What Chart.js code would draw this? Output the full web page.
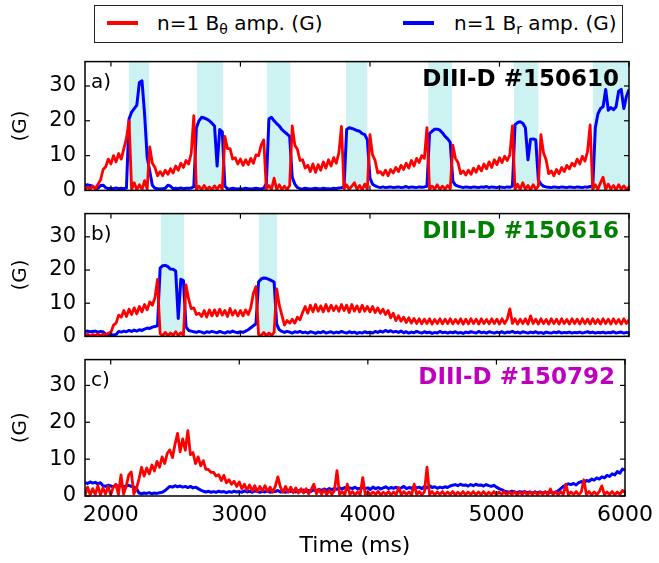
<!DOCTYPE html>
<html>
<head>
<meta charset="utf-8">
<script src="https://cdn.jsdelivr.net/npm/chart.js@4.4.1/dist/chart.umd.min.js"></script>
<style>
  body { margin: 0; background: #fff; }
  #wrap { position: relative; width: 659px; height: 563px; overflow: hidden; font-family: 'DejaVu Sans'; color: #000; }
  #wrap canvas { position: absolute; left: 0; }
  #legend { position: absolute; left: 94px; top: 5px; width: 529px; height: 38px; box-sizing: border-box; border: 1.5px solid #222; }
  .sw { position: absolute; width: 31px; height: 4px; top: 15px; }
  .lt { position: absolute; top: 7px; font-size: 20px; line-height: 20px; white-space: nowrap; }
  .lt sub { font-size: 14px; vertical-align: -4px; line-height: 0; }
</style>
</head>
<body>
<div id="wrap">
  <div id="legend">
    <div class="sw" style="left:12px;background:#ff0000"></div>
    <div class="lt" style="left:62px">n=1 B<sub>θ</sub> amp. (G)</div>
    <div class="sw" style="left:308px;background:#0000ff"></div>
    <div class="lt" style="left:359px">n=1 B<sub>r</sub> amp. (G)</div>
  </div>
  <canvas id="pa" width="659" height="172" style="top:40px"></canvas>
  <canvas id="pb" width="659" height="166" style="top:192px"></canvas>
  <canvas id="pc" width="659" height="225" style="top:338px"></canvas>
</div>
<script>
// samples every 20 ms, 1800 .. 6000 ms
const T_START = 1800, T_STEP = 20;
const xTickValues = [2000, 3000, 4000, 5000, 6000];

// shot 150610
const aRed = [
  0.2,1.0,0.3,1.2,0.4,1.8,3.0,6.0,6.8,9.0,
  7.6,10.0,8.2,10.6,9.0,12.0,15.0,20.0,0.3,2.2,
  0.2,1.6,0.2,2.8,0.4,12.5,7.8,6.6,4.2,5.4,
  4.2,5.8,4.6,6.2,5.0,7.0,5.8,7.8,6.6,8.6,
  7.6,10.6,21.5,0.3,1.2,0.2,1.4,0.3,1.0,0.2,
  1.3,0.3,1.5,0.4,15.5,12.0,12.0,9.0,9.4,7.6,
  9.0,7.2,8.8,7.4,9.2,7.8,10.2,10.0,13.0,14.5,
  0.4,1.4,0.3,3.5,0.2,1.6,0.3,1.2,0.2,1.4,
  18.5,13.0,11.8,8.6,8.8,6.4,7.2,5.4,7.6,5.2,
  7.4,5.8,8.2,6.4,8.8,7.0,9.4,7.8,10.8,18.4,
  0.4,1.6,0.3,1.2,2.2,0.3,1.4,0.2,1.8,0.4,
  16.0,10.2,8.6,5.0,5.4,4.4,5.8,4.2,6.0,5.0,
  6.6,5.4,7.2,6.0,7.8,6.4,8.6,7.0,9.2,8.0,
  10.0,9.2,18.0,0.3,1.2,0.4,1.6,0.3,1.2,0.4,
  1.4,0.5,13.0,9.2,8.0,4.8,5.6,4.4,5.8,4.6,
  6.4,5.2,7.0,5.6,7.6,6.2,8.2,6.6,8.8,7.4,
  9.4,8.0,9.8,8.6,10.2,18.5,0.3,1.8,0.3,2.2,
  0.3,1.4,0.2,1.6,0.4,1.2,16.0,10.8,8.8,4.8,
  5.6,4.2,6.0,4.8,6.6,5.4,7.2,6.2,7.8,7.0,
  9.0,7.6,9.8,8.4,11.2,18.8,0.3,1.6,0.3,2.2,
  3.8,0.3,1.8,0.4,1.4,0.2,1.6,0.4,1.3,0.3,
  1.0
];
const aBlue = [
  1.5,1.6,1.4,1.2,0.5,0.6,1.4,1.5,0.8,0.5,
  0.6,0.5,0.7,0.5,0.6,0.5,0.7,20.5,22.5,23.5,
  24.5,31.0,31.5,22.0,9.5,5.5,1.5,0.6,0.5,0.4,
  0.5,0.6,1.5,1.2,0.5,0.6,0.5,0.7,0.5,0.6,
  0.6,0.7,1.0,18.0,20.0,21.0,20.8,20.5,20.0,19.3,
  18.5,7.0,17.5,16.8,1.2,0.5,0.4,0.6,0.5,0.4,
  0.5,0.4,0.6,0.5,0.4,0.5,0.6,0.5,0.4,0.6,
  2.0,20.5,21.0,20.0,19.2,18.5,17.5,16.8,16.2,15.5,
  3.8,1.8,0.8,0.5,0.4,0.6,0.5,0.4,0.5,0.6,
  0.5,0.4,0.6,0.5,0.5,0.4,0.6,0.5,0.7,0.8,
  1.0,17.5,18.0,17.8,17.5,17.2,17.0,16.3,16.0,14.5,
  3.5,1.8,1.3,1.0,0.8,1.0,0.8,0.9,1.0,0.8,
  0.9,1.0,0.8,0.9,1.1,0.8,1.0,0.9,0.8,1.0,
  0.9,1.0,1.2,16.3,17.0,17.6,17.6,17.3,16.5,15.5,
  14.8,13.8,2.6,1.5,1.2,1.0,0.8,1.0,0.9,0.8,
  1.0,0.9,0.8,1.0,0.9,1.1,0.8,1.0,0.9,0.8,
  1.0,0.9,0.8,1.0,0.9,1.2,18.8,19.5,19.7,19.3,
  18.0,8.8,14.7,14.8,14.5,3.0,1.8,1.2,1.0,0.9,
  0.8,1.0,0.9,0.8,1.0,0.9,0.8,1.0,0.9,0.8,
  1.0,0.9,0.8,1.0,0.9,1.1,1.0,18.0,22.0,23.5,
  24.0,29.0,23.0,23.8,23.2,24.0,28.5,29.0,23.5,27.0,
  29.0
];
const aBandStart = [2140, 2665, 3205, 3815, 4450, 5113, 5723];
const aBandEnd   = [2295, 2865, 3385, 3980, 4635, 5300, 6000];

// shot 150616
const bRed = [
  0.2,0.7,0.1,0.6,0.2,0.8,0.2,0.7,0.3,1.0,
  1.2,3.4,4.0,6.4,5.8,7.8,6.0,8.2,6.6,8.6,
  6.8,9.0,7.4,9.6,8.0,10.4,9.4,11.6,17.2,0.8,
  0.2,1.2,0.2,1.0,0.3,1.4,0.3,1.1,0.4,15.5,
  11.3,8.4,8.6,6.6,7.0,6.0,7.8,5.8,8.0,6.2,
  8.0,6.2,8.2,6.4,7.8,6.0,8.4,6.4,7.8,6.2,
  7.8,6.2,8.0,6.6,8.6,13.0,15.0,0.6,0.2,1.2,
  0.2,1.0,0.3,1.2,14.3,9.4,6.4,3.4,4.8,4.0,
  5.2,4.0,5.8,5.0,7.2,9.0,7.0,9.4,7.4,9.6,
  7.6,9.2,7.4,9.6,7.6,9.4,7.8,9.2,7.6,9.6,
  7.8,9.4,7.2,9.6,7.6,9.2,7.4,9.4,7.6,9.0,
  7.4,9.0,7.2,8.6,7.0,8.2,6.6,7.8,5.6,7.0,
  4.8,6.2,4.6,5.8,4.2,5.6,4.0,5.4,3.9,5.3,
  3.8,5.2,3.9,5.3,3.7,5.1,3.9,5.3,3.8,5.2,
  3.9,5.3,3.8,5.1,3.9,5.3,3.7,5.2,3.8,5.3,
  3.9,5.2,3.7,5.3,3.9,5.1,3.8,5.3,3.9,5.2,
  3.7,5.3,3.9,5.2,8.3,3.9,5.3,3.7,5.2,3.9,
  5.3,3.7,6.2,3.9,5.2,3.7,5.3,3.9,5.1,3.7,
  5.3,3.9,5.2,3.7,5.3,3.9,5.1,3.7,5.3,3.9,
  5.2,3.7,5.3,3.9,5.2,3.7,5.3,3.9,5.1,3.7,
  5.3,3.9,5.2,3.7,5.3,3.9,5.1,3.7,5.3,3.9,
  5.0
];
const bBlue = [
  1.5,1.6,1.4,1.5,1.6,1.3,1.5,1.4,0.6,0.4,
  0.5,0.4,0.6,1.5,1.3,1.6,1.4,1.8,1.5,1.9,
  1.6,2.0,1.8,2.2,2.5,2.4,2.8,3.0,3.2,20.6,
  21.3,21.4,21.0,20.3,20.2,19.7,5.4,17.2,16.8,2.9,
  1.8,1.6,1.4,1.2,1.5,1.3,1.0,1.4,1.2,1.5,
  1.3,1.1,1.5,1.2,1.0,1.4,1.2,1.6,1.3,1.1,
  1.4,1.2,1.6,2.0,2.6,3.2,3.8,16.4,17.3,17.6,
  17.5,17.2,16.8,16.4,3.7,2.0,1.5,1.2,1.5,1.3,
  1.0,1.4,1.2,1.5,1.1,1.3,1.0,1.4,1.2,0.9,
  1.3,1.1,1.5,1.0,1.2,1.4,1.0,1.3,1.1,1.5,
  1.2,1.0,1.4,1.1,1.3,0.9,1.2,1.0,1.4,1.1,
  1.3,1.0,1.5,1.2,1.6,1.3,1.8,1.4,1.7,1.3,
  1.5,1.2,1.6,1.1,1.4,1.0,1.3,1.1,1.5,1.2,
  1.0,1.4,1.1,1.3,0.9,1.2,1.0,1.5,1.1,1.3,
  1.0,1.3,1.1,1.4,1.0,1.2,0.9,1.3,1.1,1.4,
  1.2,1.0,1.5,1.1,1.3,1.0,1.4,1.2,1.0,1.3,
  1.1,1.4,1.0,1.3,1.2,1.5,1.1,1.3,1.0,1.4,
  1.2,1.0,1.3,1.1,1.4,1.0,1.2,0.9,1.3,1.1,
  1.0,1.3,1.1,1.4,1.0,1.2,1.1,1.3,1.0,1.2,
  1.1,1.3,1.0,1.2,1.4,1.1,1.3,1.0,1.2,1.1,
  1.3,1.0,1.2,1.1,1.4,1.0,1.2,1.3,1.0,1.2,
  1.1
];
const bBandStart = [2387, 3143];
const bBandEnd   = [2565, 3283];

// shot 150792
const cRed = [
  0.2,2.4,0.3,2.0,0.4,2.8,0.3,2.2,0.5,2.6,
  0.3,2.4,3.2,0.4,5.7,0.5,2.6,5.7,6.5,0.6,
  2.0,4.6,7.8,5.4,7.6,6.0,8.4,6.8,9.4,7.8,
  10.6,8.8,11.6,12.5,10.4,14.0,17.0,12.0,15.5,12.4,
  17.7,11.2,11.8,8.8,10.6,8.2,9.6,7.2,7.2,6.4,
  6.4,5.4,5.8,4.2,5.6,3.6,4.4,3.2,4.0,2.6,
  3.8,2.0,3.2,1.6,3.0,1.4,2.8,1.2,2.6,1.4,
  2.8,1.2,2.4,1.0,2.6,5.2,2.4,1.0,2.6,1.0,
  2.4,0.9,2.2,0.8,2.0,0.8,2.0,0.6,1.8,3.2,
  0.6,1.8,0.5,1.7,0.4,1.6,0.4,1.5,6.9,0.4,
  1.2,0.3,3.2,0.4,1.2,0.3,1.1,0.3,5.0,0.4,
  1.2,0.3,1.1,0.4,1.3,0.3,1.0,0.4,1.2,0.3,
  1.1,0.4,2.3,0.3,1.2,0.4,1.1,0.3,3.2,0.4,
  1.2,0.3,1.1,7.8,0.4,1.2,0.3,1.1,0.4,1.2,
  0.3,1.1,0.4,1.2,0.3,1.0,0.4,1.2,0.3,1.1,
  0.4,1.2,0.3,1.1,0.4,1.2,0.3,1.0,0.4,1.2,
  0.3,1.1,0.4,1.2,0.3,1.1,0.4,1.2,0.3,1.0,
  0.4,1.2,0.3,1.1,0.4,1.2,0.3,1.1,0.4,1.2,
  0.3,1.9,0.4,1.1,0.3,1.2,0.4,3.2,0.3,1.1,
  0.4,1.2,0.3,1.1,4.4,0.4,1.2,0.3,1.1,0.4,
  1.2,2.75,0.3,1.1,0.4,1.2,0.3,1.1,0.4,1.5,
  1.0
];
const cBlue = [
  3.6,3.4,3.8,3.5,3.7,3.3,3.6,2.8,2.6,2.9,
  2.7,2.5,2.9,2.6,2.8,2.5,2.7,2.9,2.6,2.4,
  2.0,0.8,0.6,0.8,0.7,0.9,0.6,0.8,0.7,0.9,
  1.0,1.4,2.0,2.6,2.4,2.8,2.5,2.7,2.4,2.6,
  2.3,2.6,2.2,2.4,2.0,1.6,1.3,1.1,1.3,1.0,
  1.2,1.0,1.3,1.1,1.2,0.9,1.2,1.0,1.3,1.1,
  1.2,1.0,1.4,1.1,1.3,1.0,1.4,1.2,1.0,1.3,
  1.1,1.4,1.0,1.3,1.2,1.5,1.1,1.3,1.0,1.4,
  1.2,1.5,1.1,1.4,1.3,1.6,1.2,1.5,1.3,1.7,
  1.4,1.8,1.5,1.9,1.6,2.0,1.7,2.1,1.8,2.2,
  1.9,2.3,1.8,2.2,2.0,2.4,1.9,2.1,2.3,2.0,
  2.2,1.8,2.4,2.0,2.3,1.9,2.2,2.5,2.0,2.3,
  2.1,2.4,1.9,2.2,2.6,2.0,2.3,2.1,2.5,2.2,
  2.4,2.0,2.6,2.2,2.8,2.3,2.5,2.1,2.4,2.2,
  2.5,2.3,2.7,2.9,3.1,2.8,3.2,2.9,3.0,2.7,
  3.1,2.8,3.2,2.9,3.0,2.7,3.1,2.8,2.6,2.9,
  2.4,2.0,1.7,1.4,1.2,1.0,1.3,1.1,0.9,1.2,
  1.0,1.2,0.9,1.1,0.8,1.0,0.9,1.1,0.8,1.0,
  0.9,1.1,0.8,1.0,1.4,2.0,2.6,3.0,3.3,3.1,
  3.4,3.0,3.6,3.9,3.5,4.2,4.0,4.6,4.3,4.9,
  4.6,5.2,4.9,5.6,5.3,6.0,5.7,6.6,6.2,7.3,
  7.0
];

const Y_TICKS_FONT = 21;
const BAND_COLOR = '#ccf2f2';

Chart.defaults.font.family = "'DejaVu Sans'";
Chart.defaults.color = '#000';

const bandsPlugin = {
  id: 'bands',
  beforeDatasetsDraw(chart, args, opts) {
    const {ctx, chartArea: ca, scales: {x}} = chart;
    ctx.save();
    ctx.fillStyle = opts.color;
    opts.starts.forEach((s, i) => {
      const x0 = x.getPixelForValue(s);
      const x1 = x.getPixelForValue(opts.ends[i]);
      ctx.fillRect(x0, ca.top, x1 - x0, ca.bottom - ca.top);
    });
    ctx.restore();
  }
};

const framePlugin = {
  id: 'frame',
  afterDraw(chart, args, opts) {
    const {ctx, chartArea: ca, scales: {x, y}} = chart;
    const seg = (x0, y0, x1, y1) => { ctx.beginPath(); ctx.moveTo(x0, y0); ctx.lineTo(x1, y1); ctx.stroke(); };
    ctx.save();
    ctx.strokeStyle = '#000';
    ctx.lineWidth = 1.2;
    y.ticks.forEach(t => {
      const py = y.getPixelForValue(t.value);
      seg(ca.left, py, ca.left + 5, py);
      seg(ca.right - 5, py, ca.right, py);
    });
    x.ticks.forEach(t => {
      const px = x.getPixelForValue(t.value);
      seg(px, ca.bottom, px, ca.bottom - 5);
      seg(px, ca.top, px, ca.top + 5);
    });
    ctx.lineWidth = 1.5;
    ctx.strokeRect(ca.left, ca.top, ca.right - ca.left, ca.bottom - ca.top);

    ctx.fillStyle = '#000';
    ctx.textBaseline = 'alphabetic';
    ctx.textAlign = 'left';
    ctx.font = "20px 'DejaVu Sans'";
    ctx.fillText(opts.tag, ca.left + 6, ca.top + 26);
    ctx.textAlign = 'right';
    ctx.font = "bold 23px 'DejaVu Sans'";
    ctx.fillStyle = opts.color;
    ctx.fillText(opts.shot, ca.right - 10, ca.top + 24);
    ctx.restore();
  }
};

const times = aRed.map((_, i) => T_START + T_STEP * i);
const pts = arr => arr.map((v, i) => ({x: times[i], y: v}));

function panel(id, red, blue, cfg) {
  new Chart(document.getElementById(id), {
    type: 'line',
    data: {
      datasets: [
        {data: pts(red), borderColor: '#ff0000', borderWidth: 2.8, pointRadius: 0, borderJoinStyle: 'round'},
        {data: pts(blue), borderColor: '#0000ff', borderWidth: 3, pointRadius: 0, borderJoinStyle: 'round'}
      ]
    },
    options: {
      responsive: false,
      animation: false,
      devicePixelRatio: 1,
      layout: {padding: {top: cfg.padTop, right: 30, left: 0, bottom: 0}},
      plugins: {
        legend: {display: false},
        tooltip: {enabled: false},
        bands: {starts: cfg.bandStart, ends: cfg.bandEnd, color: BAND_COLOR},
        frame: {tag: cfg.tag, shot: cfg.shot, color: cfg.shotColor}
      },
      scales: {
        x: {
          type: 'linear', min: 1800, max: 6000,
          grid: {display: false, drawTicks: false},
          border: {display: false},
          afterBuildTicks: s => { s.ticks = xTickValues.map(v => ({value: v})); },
          ticks: {display: cfg.xLabels, padding: 6, font: {size: 22}, callback: v => String(v),
                  maxRotation: 0, autoSkip: false},
          title: {display: cfg.xLabels, text: 'Time (ms)', font: {size: 22}, padding: {top: 0, bottom: 4}},
          afterFit: s => { s.height = cfg.xHeight; }
        },
        y: {
          min: 0, max: 37,
          grid: {display: false, drawTicks: false},
          border: {display: false},
          ticks: {stepSize: 10, includeBounds: false, padding: 9, font: {size: Y_TICKS_FONT}},
          title: {display: true, text: '(G)', font: {size: 20}, padding: {top: 9, bottom: 0}},
          afterFit: s => { s.width = 85; }
        }
      }
    },
    plugins: [bandsPlugin, framePlugin]
  });
}

panel('pa', aRed, aBlue, {padTop: 14, xHeight: 10, xLabels: false, bandStart: aBandStart, bandEnd: aBandEnd,
  tag: 'a)', shot: 'DIII-D #150610', shotColor: '#000000'});
panel('pb', bRed, bBlue, {padTop: 10, xHeight: 10, xLabels: false, bandStart: bBandStart, bandEnd: bBandEnd,
  tag: 'b)', shot: 'DIII-D #150616', shotColor: '#008000'});
panel('pc', cRed, cBlue, {padTop: 10, xHeight: 67, xLabels: true, bandStart: [], bandEnd: [],
  tag: 'c)', shot: 'DIII-D #150792', shotColor: '#bf00bf'});
</script>
</body>
</html>
